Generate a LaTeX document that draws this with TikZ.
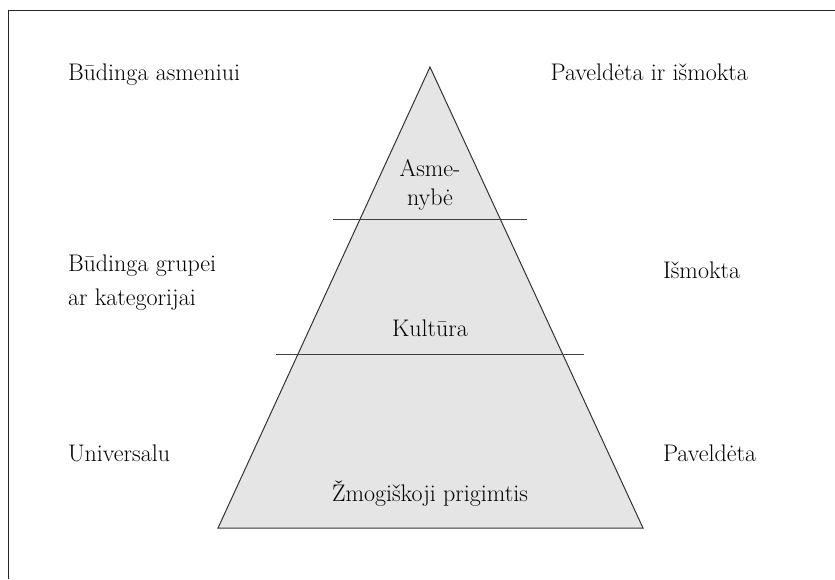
\documentclass[tikz,border=0pt]{standalone}
\usepackage{fontspec}
\begin{document}
\begin{tikzpicture}[x=1pt,y=-1pt,
  lbl/.style={inner sep=0pt, outer sep=0pt, font=\fontsize{24}{28}\selectfont, text=black},
  framel/.style={draw=black!85, line width=1.5pt},
  pyr/.style={draw=black!80, fill=black!10, line width=1pt, line join=miter},
  divider/.style={draw=black!75, line width=1.3pt}]
\useasboundingbox (0,0) rectangle (835,579);
% frame (top and left edges only)
\draw[framel] (8.5,579) -- (8.5,10.5) -- (835,10.5);
% pyramid
\coordinate (apex) at (430,67);
\coordinate (bl) at (218,528);
\coordinate (br) at (643,528);
\filldraw[pyr] (apex) -- (bl) -- (br) -- cycle;
% dividers
\coordinate (d1l) at (333,219.5);
\coordinate (d1r) at (527,219.5);
\coordinate (d2l) at (276,354.5);
\coordinate (d2r) at (584,354.5);
\draw[divider] (d1l) -- (d1r);
\draw[divider] (d2l) -- (d2r);
% inner labels
\node[lbl, anchor=base] (asme) at (430,176) {Asme-};
\node[lbl, anchor=base] (nybe) at (430,205) {nybė};
\node[lbl, anchor=base] (kult) at (430,336) {Kultūra};
\node[lbl, anchor=base] (zmog) at (430,501) {Žmogiškoji prigimtis};
% left labels
\node[lbl, anchor=base west] (l1) at (68,80) {Būdinga asmeniui};
\node[lbl, anchor=base west] (l2a) at (68,271) {Būdinga grupei};
\node[lbl, anchor=base west] (l2b) at (68,305) {ar kategorijai};
\node[lbl, anchor=base west] (l3) at (68,461) {Universalu};
% right labels
\node[lbl, anchor=base east] (r1) at (748,80) {Paveldėta ir išmokta};
\node[lbl, anchor=base west] (r2) at (663,278) {Išmokta};
\node[lbl, anchor=base west] (r3) at (663,461) {Paveldėta};
\end{tikzpicture}
\end{document}
